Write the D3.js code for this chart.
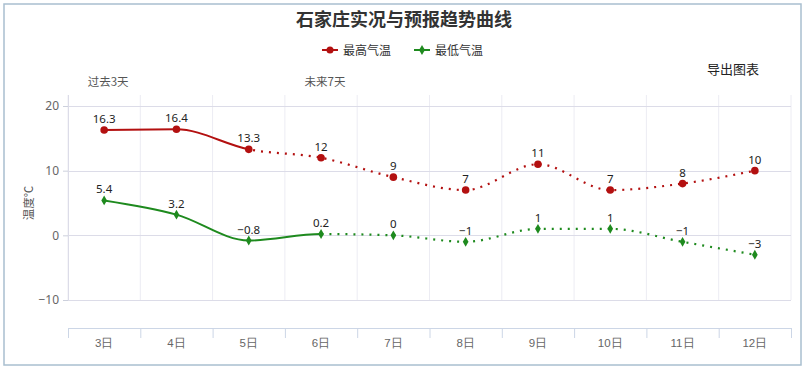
<!DOCTYPE html>
<html><head><meta charset="utf-8">
<script src="https://cdn.jsdelivr.net/npm/d3@7"></script>
<style>
html,body{margin:0;padding:0;background:#fff;}
svg{display:block;font-family:"Noto Sans CJK SC","Noto Sans",sans-serif;}
</style></head>
<body>
<svg id="c" width="808" height="368"></svg>
<script>
const categories = ["3日","4日","5日","6日","7日","8日","9日","10日","11日","12日"];
const highTemps = [16.3,16.4,13.3,12,9,7,11,7,8,10];
const lowTemps = [5.4,3.2,-0.8,0.2,0,-1,1,1,-1,-3];
const highLabels = ["16.3","16.4","13.3","12","9","7","11","7","8","10"];
const lowLabels = ["5.4","3.2","−0.8","0.2","0","−1","1","1","−1","−3"];
const yTicks = [-10,0,10,20];
const seriesNames = ["最高气温","最低气温"];
const highSolidUntil = "5日";
const lowSolidUntil = "6日";
const chartTitle = "石家庄实况与预报趋势曲线";

const svg = d3.select("#c");
const plotLeft = 68, plotRight = 791, plotTop = 95, gridBottom = 300, axisY = 328;
const x = d3.scaleBand().domain(categories).range([plotLeft, plotRight]).padding(0);
const y = d3.scaleLinear().domain([-10, 20]).range([300, 106]);
const cx = c => x(c) + x.bandwidth() / 2;

// frame
svg.append("rect").attr("x",4).attr("y",4).attr("width",797).attr("height",361)
  .attr("fill","#fff").attr("stroke","#a9bfcf").attr("stroke-width",1.5);

// title
svg.append("text").attr("x",404).attr("y",26).attr("text-anchor","middle")
  .attr("font-size",18).attr("font-weight","bold").attr("fill","#333").text(chartTitle);

// legend
const colors = ["#b31010","#1e8a1e"];
const legX = [322, 414];
seriesNames.forEach((n,i)=>{
  const g = svg.append("g");
  g.append("line").attr("x1",legX[i]).attr("x2",legX[i]+16).attr("y1",50).attr("y2",50)
    .attr("stroke",colors[i]).attr("stroke-width",2);
  if(i===0) g.append("circle").attr("cx",legX[i]+8).attr("cy",50).attr("r",3.5).attr("fill",colors[i]);
  else g.append("path").attr("d",d3.symbol(d3.symbolDiamond,30)()).attr("transform",`translate(${legX[i]+8},50)`).attr("fill",colors[i]);
  g.append("text").attr("x",legX[i]+21).attr("y",54.5).attr("font-size",12).attr("fill","#333").text(n);
});

// export text
svg.append("text").attr("x",759).attr("y",74).attr("text-anchor","end")
  .attr("font-size",13).attr("fill","#222").text("导出图表");

// past / future labels
svg.append("text").attr("x",cx("3日")+4).attr("y",86).attr("text-anchor","middle")
  .attr("font-size",11.5).attr("fill","#555").text("过去3天");
svg.append("text").attr("x",cx("6日")+4).attr("y",86).attr("text-anchor","middle")
  .attr("font-size",11.5).attr("fill","#555").text("未来7天");

// vertical grid
const bounds = categories.map(c=>x(c)).concat([plotRight]);
svg.append("g").selectAll("line").data(bounds).join("line")
  .attr("x1",d=>d).attr("x2",d=>d).attr("y1",plotTop).attr("y2",gridBottom)
  .attr("stroke","#ececf3").attr("stroke-width",1);

// horizontal grid
svg.append("g").selectAll("line").data(yTicks).join("line")
  .attr("x1",plotLeft).attr("x2",plotRight).attr("y1",d=>Math.round(y(d))+0.5).attr("y2",d=>Math.round(y(d))+0.5)
  .attr("stroke","#dcdce8").attr("stroke-width",1);

// y axis
const yAxis = d3.axisLeft(y).tickValues(yTicks).tickSize(5).tickPadding(4).tickFormat(d=>d<0?"−"+Math.abs(d):d);
const ya = svg.append("g").attr("transform",`translate(${plotLeft},0)`).call(yAxis);
ya.select(".domain").remove();
ya.selectAll(".tick line").attr("stroke","#ccd0dc");
ya.selectAll(".tick text").attr("font-size",12).attr("fill","#666").attr("font-family","'Noto Sans',sans-serif");
svg.append("line").attr("x1",plotLeft+0.5).attr("x2",plotLeft+0.5).attr("y1",plotTop).attr("y2",gridBottom).attr("stroke","#dcdce8");

svg.append("text").attr("transform",`translate(33,203) rotate(-90)`).attr("text-anchor","middle")
  .attr("font-size",11.5).attr("fill","#555").text("温度℃");

// x axis
const xa = svg.append("g").attr("transform",`translate(0,${axisY})`)
  .call(d3.axisBottom(x).tickSize(0).tickPadding(11));
xa.select(".domain").attr("stroke","#ccd6e6");
xa.selectAll(".tick text").attr("font-size",11.5).attr("fill","#666");
xa.append("g").selectAll("line").data(bounds).join("line")
  .attr("x1",d=>d+0.5).attr("x2",d=>d+0.5).attr("y1",0).attr("y2",10).attr("stroke","#ccd6e6");

// clips
const defs = svg.append("defs");
function clip(id, x0, x1){
  defs.append("clipPath").attr("id",id).append("rect").attr("x",x0).attr("y",0).attr("width",x1-x0).attr("height",368);
}
clip("hs", 0, cx(highSolidUntil)); clip("hd", cx(highSolidUntil), 808);
clip("ls", 0, cx(lowSolidUntil)); clip("ld", cx(lowSolidUntil), 808);

const line = d3.line().x((d,i)=>cx(categories[i])).y(d=>y(d)).curve(d3.curveMonotoneX);

function drawSeries(vals, labels, color, sId, dId, marker){
  svg.append("path").attr("d",line(vals)).attr("fill","none").attr("stroke",color)
    .attr("stroke-width",2).attr("clip-path",`url(#${sId})`);
  svg.append("path").attr("d",line(vals)).attr("fill","none").attr("stroke",color)
    .attr("stroke-width",2.2).attr("stroke-dasharray","2,6").attr("clip-path",`url(#${dId})`);
  const g = svg.append("g");
  if(marker==="circle"){
    g.selectAll("circle").data(vals).join("circle")
      .attr("cx",(d,i)=>cx(categories[i])).attr("cy",d=>y(d)).attr("r",3.8).attr("fill",color);
  } else {
    g.selectAll("path").data(vals).join("path")
      .attr("d",d3.symbol(d3.symbolDiamond,28)())
      .attr("transform",(d,i)=>`translate(${cx(categories[i])},${y(d)})`).attr("fill",color);
  }
  svg.append("g").selectAll("text").data(vals).join("text")
    .attr("x",(d,i)=>cx(categories[i])).attr("y",d=>y(d)-7).attr("text-anchor","middle")
    .attr("font-size",11.5).attr("fill","#222").attr("font-family","'Noto Sans',sans-serif")
    .text((d,i)=>labels[i]);
}
drawSeries(highTemps, highLabels, colors[0], "hs", "hd", "circle");
drawSeries(lowTemps, lowLabels, colors[1], "ls", "ld", "diamond");
</script>
</body></html>
